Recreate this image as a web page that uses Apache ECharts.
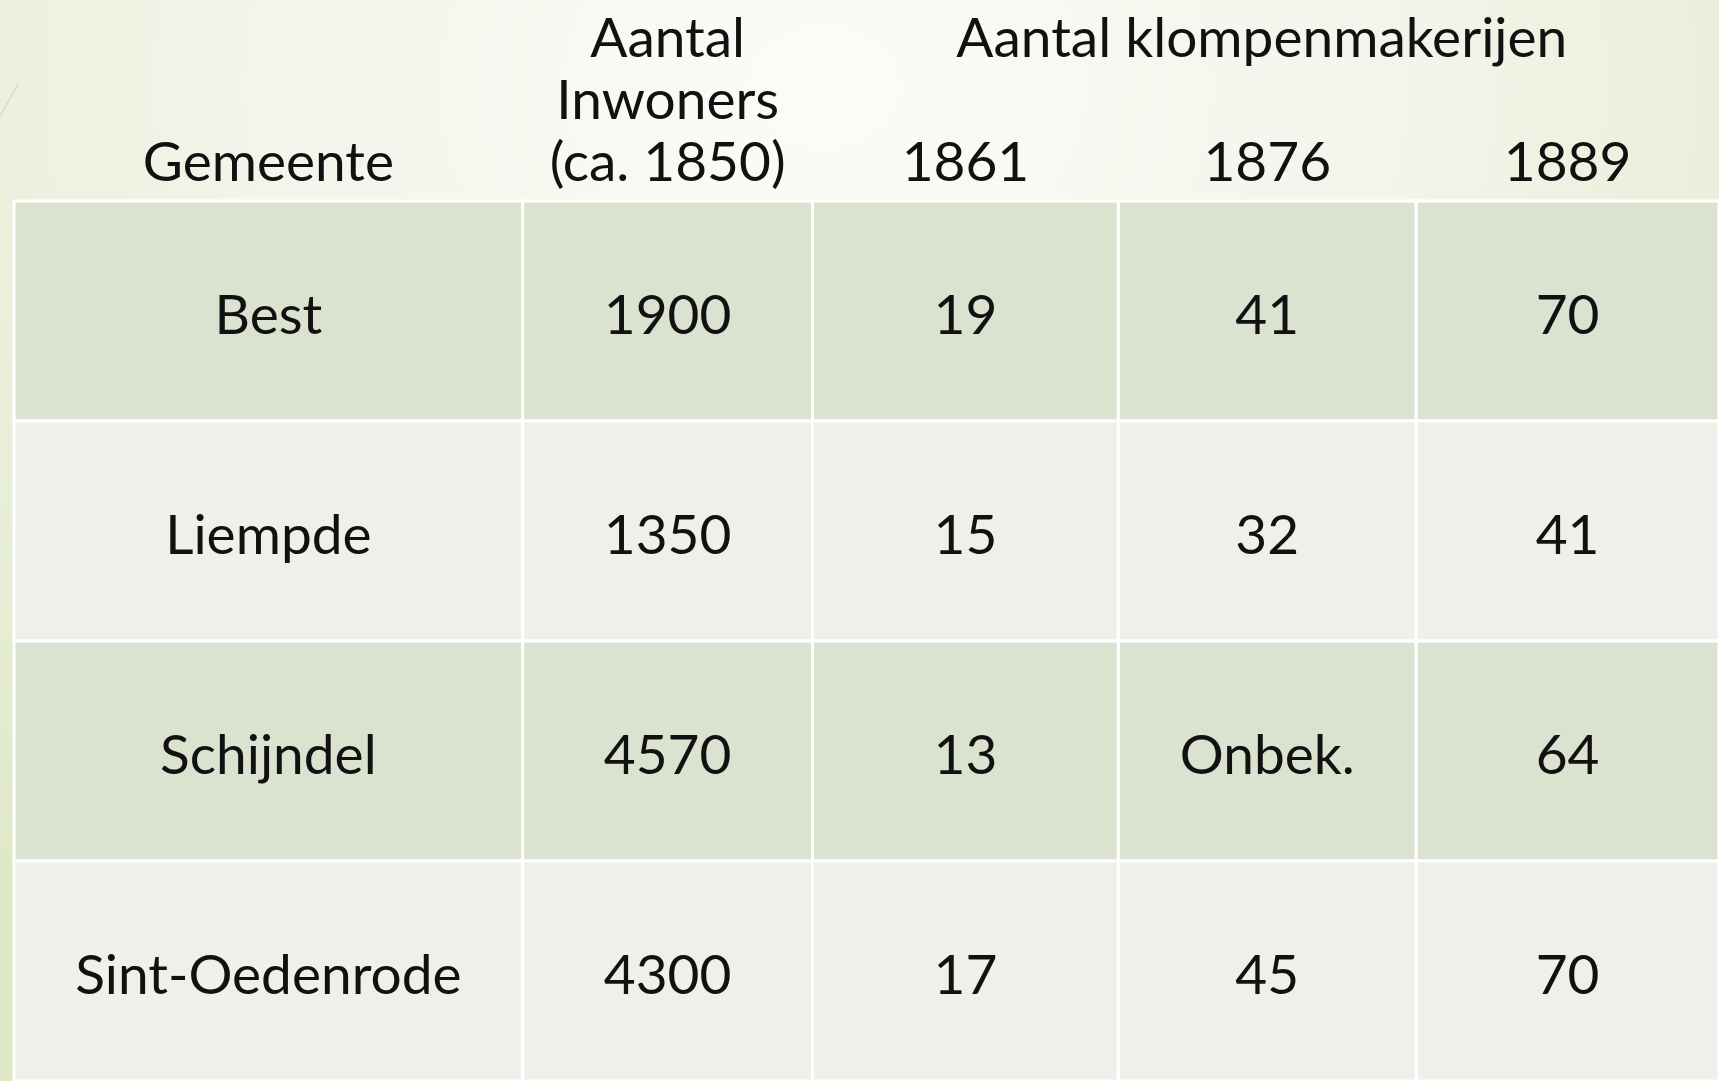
<!DOCTYPE html>
<html>
<head>
<meta charset="utf-8">
<title>Klompenmakerijen</title>
<script src="https://cdn.jsdelivr.net/npm/echarts@6/dist/echarts.min.js"></script>
<style>
  html, body { margin: 0; padding: 0; }
  #chart {
    width: 1719px;
    height: 1081px;
    background: radial-gradient(ellipse 75% 95% at 48% 8%, #fbfcf8 0%, #f2f5ea 45%, #e6edd4 80%, #dfe8c6 100%);
  }
</style>
</head>
<body>
<div id="chart"></div>
<script>
  // table data
  var gemeenten = ['Best', 'Liempde', 'Schijndel', 'Sint-Oedenrode'];
  var inwoners = [1900, 1350, 4570, 4300];
  var klompen1861 = [19, 15, 13, 17];
  var klompen1876 = [41, 32, 'Onbek.', 45];
  var klompen1889 = [70, 41, 64, 70];

  // header labels
  var kolomKoppen = [['Gemeente'], ['Aantal', 'Inwoners', '(ca. 1850)'], ['1861'], ['1876'], ['1889']];
  var groepKop = 'Aantal klompenmakerijen';

  var kolommen = [gemeenten, inwoners, klompen1861, klompen1876, klompen1889];

  // layout
  var colWidths = [509, 290, 306, 298, 303];
  var colStart = [];
  var acc = 0;
  for (var i = 0; i < colWidths.length; i++) {
    colStart.push(acc);
    acc += colWidths[i];
  }
  var totalWidth = acc;

  var font = 'Lato, "Open Sans", sans-serif';
  var fontSize = 55;
  var fontWeight = 400;
  var textColor = '#111';
  var lineGap = 62;

  var cellData = [];
  for (var c = 0; c < kolommen.length; c++) {
    for (var r = 0; r < gemeenten.length; r++) {
      cellData.push([c, r]);
    }
  }
  var headData = [];
  for (var k = 0; k < kolomKoppen.length; k++) {
    headData.push([k, 0]);
  }

  function textStyle(text) {
    return {
      text: text,
      fontFamily: font,
      fontSize: fontSize,
      fontWeight: fontWeight,
      fill: textColor,
      align: 'center',
      verticalAlign: 'middle'
    };
  }

  function renderCell(params, api) {
    var c = api.value(0);
    var r = api.value(1);
    var p0 = api.coord([colStart[c], r]);
    var p1 = api.coord([colStart[c] + colWidths[c], r]);
    var h = api.size([0, 1])[1];
    return {
      type: 'group',
      children: [{
        type: 'rect',
        shape: { x: p0[0], y: p0[1] - h / 2, width: p1[0] - p0[0], height: h },
        style: { fill: r % 2 === 0 ? '#dbe2cf' : '#eef1ea', stroke: '#ffffff', lineWidth: 3 }
      }, {
        type: 'text',
        x: (p0[0] + p1[0]) / 2,
        y: p0[1] + 5,
        style: textStyle(String(kolommen[c][r]))
      }]
    };
  }

  function renderHead(params, api) {
    var c = api.value(0);
    var p0 = api.coord([colStart[c], 0]);
    var p1 = api.coord([colStart[c] + colWidths[c], 0]);
    var top = params.coordSys.y;
    var cx = (p0[0] + p1[0]) / 2;
    var lines = kolomKoppen[c];
    var children = [];
    for (var j = 0; j < lines.length; j++) {
      children.push({
        type: 'text',
        x: cx,
        y: top - 38 - (lines.length - 1 - j) * lineGap,
        style: textStyle(lines[j])
      });
    }
    // group header over the three year columns
    if (c === 2) {
      var q = api.coord([colStart[4] + colWidths[4], 0]);
      children.push({
        type: 'text',
        x: (p0[0] + q[0]) / 2 - 4,
        y: top - 38 - 2 * lineGap,
        style: textStyle(groepKop)
      });
    }
    return { type: 'group', children: children };
  }

  var chart = echarts.init(document.getElementById('chart'));
  chart.setOption({
    backgroundColor: 'transparent',
    animation: false,
    graphic: [{
      type: 'line',
      shape: { x1: 0, y1: 116, x2: 18, y2: 84 },
      style: { stroke: '#c8d2b4', lineWidth: 1 }
    }],
    grid: {
      left: 14,
      width: totalWidth,
      top: 201,
      height: 885
    },
    xAxis: {
      type: 'value',
      min: 0,
      max: totalWidth,
      show: false
    },
    yAxis: {
      type: 'category',
      data: gemeenten,
      inverse: true,
      show: false
    },
    series: [{
      type: 'custom',
      renderItem: renderCell,
      data: cellData,
      clip: false,
      silent: true
    }, {
      type: 'custom',
      renderItem: renderHead,
      data: headData,
      clip: false,
      silent: true
    }]
  });
</script>
</body>
</html>
